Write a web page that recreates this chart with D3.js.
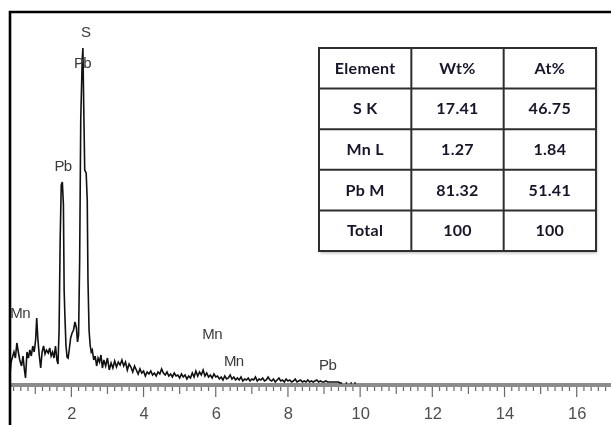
<!DOCTYPE html>
<html>
<head>
<meta charset="utf-8">
<script src="https://cdn.jsdelivr.net/npm/d3@7"></script>
<style>
  html, body { margin: 0; padding: 0; background: #fff; }
  svg { display: block; }
</style>
</head>
<body>
<svg id="chart" width="611" height="425"></svg>
<script>
// EDS spectrum: energy (keV) and counts
const energy = [
  0.30, 0.33, 0.37, 0.41, 0.45, 0.49, 0.53, 0.57, 0.62, 0.66, 0.70, 0.73, 0.77, 0.81, 0.85, 0.89,
  0.93, 0.97, 1.01, 1.04, 1.07, 1.11, 1.15, 1.19, 1.23, 1.27, 1.31, 1.36, 1.40, 1.44, 1.48, 1.52,
  1.56, 1.60, 1.63, 1.66, 1.69, 1.72, 1.75, 1.78, 1.80, 1.82, 1.85, 1.88, 1.91, 1.94, 1.98, 2.02,
  2.06, 2.10, 2.14, 2.17, 2.20, 2.23, 2.26, 2.30, 2.32, 2.34, 2.37, 2.41, 2.44, 2.46, 2.49, 2.52,
  2.55, 2.58, 2.62, 2.66, 2.70, 2.74, 2.78, 2.82, 2.86, 2.90, 2.95, 3.00, 3.05, 3.10, 3.15, 3.20,
  3.25, 3.30, 3.35, 3.40, 3.45, 3.50, 3.55, 3.60, 3.65, 3.70, 3.75, 3.80, 3.85, 3.90, 3.95, 4.00,
  4.05, 4.10, 4.15, 4.20, 4.25, 4.30, 4.35, 4.40, 4.45, 4.50, 4.55, 4.60, 4.65, 4.70, 4.75, 4.80,
  4.85, 4.90, 4.95, 5.00, 5.05, 5.10, 5.15, 5.20, 5.25, 5.30, 5.35, 5.40, 5.45, 5.50, 5.55, 5.60,
  5.65, 5.70, 5.75, 5.80, 5.85, 5.90, 5.95, 6.00, 6.05, 6.10, 6.15, 6.20, 6.25, 6.30, 6.35, 6.40,
  6.45, 6.50, 6.55, 6.60, 6.65, 6.70, 6.75, 6.80, 6.85, 6.90, 6.95, 7.00, 7.05, 7.10, 7.15, 7.20,
  7.25, 7.30, 7.35, 7.40, 7.45, 7.50, 7.55, 7.60, 7.65, 7.70, 7.75, 7.80, 7.85, 7.90, 7.95, 8.00,
  8.05, 8.10, 8.15, 8.20, 8.25, 8.30, 8.35, 8.40, 8.45, 8.50, 8.55, 8.60, 8.65, 8.70, 8.75, 8.80,
  8.85, 8.90, 8.95, 9.00, 9.05, 9.10, 9.20, 9.30, 9.40, 9.45, 9.50
];
const counts = [
  10, 23, 28, 33, 27, 42, 33, 25, 19, 29, 15, 7, 33, 27, 35, 29,
  39, 33, 45, 67, 47, 30, 17, 33, 39, 31, 35, 32, 37, 29, 33, 27,
  39, 25, 21, 55, 145, 200, 203, 180, 95, 70, 40, 28, 27, 35, 47, 52,
  55, 63, 57, 43, 50, 125, 265, 325, 337, 285, 215, 212, 185, 105, 55, 40,
  33, 35, 25, 29, 19, 27, 23, 30, 17, 25, 19, 27, 15, 22, 17, 24,
  18, 23, 20, 25, 19, 23, 15, 21, 18, 13, 19, 15, 11, 16, 12, 14,
  9, 13, 11, 14, 10, 12, 9, 13, 11, 16, 12, 10, 13, 9, 11, 8,
  12, 9, 10, 7, 11, 8, 10, 6, 9, 7, 12, 8, 14, 9, 13, 10,
  15, 9, 12, 8, 10, 7, 11, 8, 9, 6, 8, 5, 9, 6, 7, 10,
  6, 8, 5, 7, 5, 8, 4, 6, 5, 7, 4, 6, 5, 8, 4, 6,
  5, 7, 4, 5, 8, 5, 4, 6, 3, 5, 7, 4, 5, 3, 6, 4,
  5, 3, 4, 6, 3, 4, 5, 3, 4, 3, 5, 3, 4, 3, 4, 5,
  3, 4, 3, 3, 4, 3, 3, 3, 3, 2, 2
];

// Peak labels
const peakLabels = ["S", "Pb", "Pb", "Mn", "Mn", "Mn", "Pb"];
const peakEnergy = [2.40, 2.31, 1.77, 0.58, 5.90, 6.50, 9.10];
const peakHeight = [348, 317, 214, 67, 46, 19, 15];

// Axis ticks (keV)
const majorTicks = [2, 4, 6, 8, 10, 12, 14, 16];

// Quantification table
const tableHeader = ["Element", "Wt%", "At%"];
const elements = ["S K", "Mn L", "Pb M", "Total"];
const wtPct = ["17.41", "1.27", "81.32", "100"];
const atPct = ["46.75", "1.84", "51.41", "100"];

const svg = d3.select("#chart");
const W = 611, H = 425;

svg.append("rect").attr("width", W).attr("height", H).attr("fill", "#fff");

const defs = svg.append("defs");
defs.append("filter").attr("id", "soft")
  .append("feGaussianBlur").attr("stdDeviation", 0.45);
const sh = defs.append("filter").attr("id", "shadow")
  .attr("x", "-5%").attr("y", "-5%").attr("width", "115%").attr("height", "120%");
sh.append("feGaussianBlur").attr("in", "SourceAlpha").attr("stdDeviation", 1.5);
sh.append("feOffset").attr("dx", 1).attr("dy", 2).attr("result", "b");
sh.append("feComponentTransfer").append("feFuncA").attr("type", "linear").attr("slope", 0.3);
const m = sh.append("feMerge");
m.append("feMergeNode");
m.append("feMergeNode").attr("in", "SourceGraphic");

const x = d3.scaleLinear().domain([0.3, 16.95]).range([10, 611]);
const y = d3.scaleLinear().domain([0, 337]).range([385, 48]);
const baseY = y(0);

// Energy axis: gray baseline bar with minor / medium / major ticks
const axisG = svg.append("g");
axisG.append("line")
  .attr("x1", 10).attr("x2", W).attr("y1", baseY).attr("y2", baseY)
  .attr("stroke", "#8c8c8c").attr("stroke-width", 4);

const minor = d3.range(0.4, 16.95, 0.2).map(v => +v.toFixed(1));
const tickLen = v => (Math.abs(v - Math.round(v)) < 1e-6
  ? (Math.round(v) % 2 === 0 ? 10 : 7) : 4);
axisG.selectAll("line.tk").data(minor).join("line")
  .attr("class", "tk")
  .attr("x1", d => x(d)).attr("x2", d => x(d))
  .attr("y1", baseY + 2).attr("y2", d => baseY + 2 + tickLen(d))
  .attr("stroke", "#6a6a6a").attr("stroke-width", 1.2);

const labelAxis = d3.axisBottom(x).tickValues(majorTicks).tickSize(0).tickPadding(0)
  .tickFormat(d3.format("d"));
const la = svg.append("g").attr("transform", `translate(0,${baseY + 34})`)
  .call(labelAxis);
la.select(".domain").remove();
la.selectAll("text")
  .attr("dy", 0)
  .attr("fill", "#4e4e4e")
  .attr("font-family", "Liberation Sans, Arial, sans-serif")
  .attr("font-size", 16.5)
  .attr("filter", "url(#soft)");

// Spectrum trace
const spectrum = energy.map((e, i) => [e, counts[i]]);
svg.append("path")
  .datum(spectrum)
  .attr("fill", "none")
  .attr("stroke", "#111")
  .attr("stroke-width", 1.6)
  .attr("stroke-linejoin", "miter")
  .attr("d", d3.line().x(d => x(d[0])).y(d => y(d[1])));

// Trailing dots at the end of the trace
svg.selectAll("circle.tail").data([9.62, 9.75, 9.86]).join("circle")
  .attr("class", "tail")
  .attr("cx", d => x(d)).attr("cy", y(2)).attr("r", 0.9).attr("fill", "#222");

// Peak labels
svg.append("g").selectAll("text").data(peakLabels).join("text")
  .attr("x", (d, i) => x(peakEnergy[i]))
  .attr("y", (d, i) => y(peakHeight[i]))
  .attr("text-anchor", "middle")
  .attr("fill", "#3a3a3a")
  .attr("font-family", "Liberation Sans, Arial, sans-serif")
  .attr("font-size", 15)
  .attr("letter-spacing", -0.6)
  .attr("filter", "url(#soft)")
  .text(d => d);

// Frame (left and top edges)
svg.append("path")
  .attr("d", `M10,${H} V12 H${W}`)
  .attr("fill", "none").attr("stroke", "#000").attr("stroke-width", 2.6);

// Quantification table
const rows = [tableHeader].concat(elements.map((e, i) => [e, wtPct[i], atPct[i]]));
const colX = d3.scaleBand().domain(d3.range(3)).range([319, 596]);
const rowY = d3.scaleBand().domain(d3.range(rows.length)).range([48, 251]);

const tbl = svg.append("g");
tbl.append("rect")
  .attr("x", 319).attr("y", 48).attr("width", 596 - 319).attr("height", 251 - 48)
  .attr("fill", "#fff").attr("filter", "url(#shadow)");

const cells = rows.flatMap((r, ri) => r.map((c, ci) => ({ c, ri, ci })));
tbl.selectAll("text").data(cells).join("text")
  .attr("x", d => colX(d.ci) + colX.bandwidth() / 2)
  .attr("y", d => rowY(d.ri) + rowY.bandwidth() / 2 + 5.5)
  .attr("text-anchor", "middle")
  .attr("fill", "#15152a")
  .attr("font-family", "Lato, sans-serif")
  .attr("font-weight", 700)
  .attr("font-size", 16)
  .attr("letter-spacing", 0.3)
  .attr("filter", "url(#soft)")
  .text(d => d.c);

const grid = tbl.append("g").attr("stroke", "#2e2e2e").attr("stroke-width", 2).attr("fill", "none");
grid.selectAll("line.h").data(d3.range(1, rows.length)).join("line")
  .attr("class", "h")
  .attr("x1", 319).attr("x2", 596)
  .attr("y1", d => rowY(d)).attr("y2", d => rowY(d));
grid.selectAll("line.v").data([1, 2]).join("line")
  .attr("class", "v")
  .attr("x1", d => colX(d)).attr("x2", d => colX(d))
  .attr("y1", 48).attr("y2", 251);
grid.append("rect")
  .attr("x", 319).attr("y", 48).attr("width", 596 - 319).attr("height", 251 - 48);
</script>
</body>
</html>
